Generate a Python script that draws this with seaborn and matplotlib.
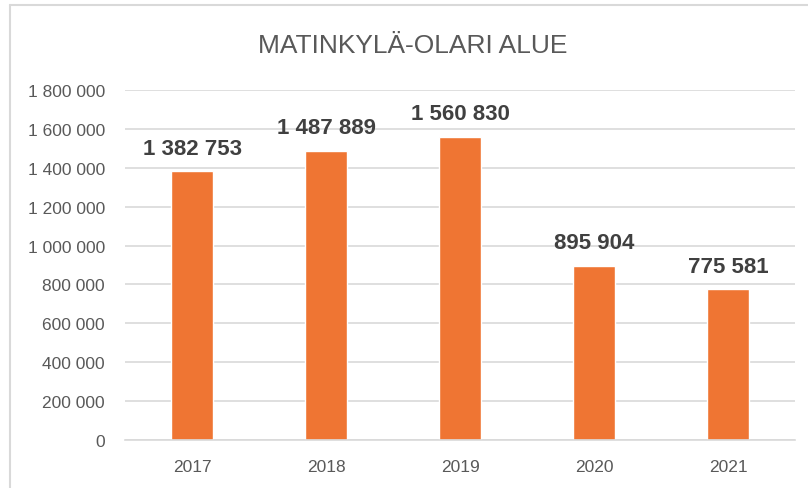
import matplotlib
matplotlib.use("Agg")
import matplotlib.pyplot as plt
import seaborn as sns
import pandas as pd
from matplotlib.ticker import FuncFormatter, MultipleLocator
from matplotlib.lines import Line2D

years = ["2017", "2018", "2019", "2020", "2021"]
values = [1382753, 1487889, 1560830, 895904, 775581]
title = "MATINKYLÄ-OLARI ALUE"

sns.set_theme(style="white")
plt.rcParams['font.family'] = ['Liberation Sans', 'DejaVu Sans']

df = pd.DataFrame({"year": years, "value": values})

def fmt_space(v, pos=None):
    return f"{int(round(v)):,}".replace(",", " ")

fig = plt.figure(figsize=(8.08, 4.89), dpi=100)
ax = fig.add_axes([0.1547, 0.0982, 0.8293, 0.7157])

sns.barplot(data=df, x="year", y="value", color="#EF7533", width=0.31,
            saturation=1, ax=ax)

ax.set_ylim(0, 1800000)
ax.set_xlim(-0.5, 4.5)
ax.yaxis.set_major_locator(MultipleLocator(200000))
ax.yaxis.set_major_formatter(FuncFormatter(fmt_space))
ax.grid(axis="y", color="#D9D9D9", linewidth=1.2)
ax.set_axisbelow(True)
for s in ["top", "right", "left"]:
    ax.spines[s].set_visible(False)
ax.spines["bottom"].set_color("#D9D9D9")
ax.spines["bottom"].set_linewidth(1.2)
ax.tick_params(axis="both", length=0, colors="#595959", labelsize=12.5)
ax.tick_params(axis="y", pad=14.5)
ax.tick_params(axis="x", pad=14)
ax.set_xlabel("")
ax.set_ylabel("")

ax.bar_label(ax.containers[0], labels=[fmt_space(v) for v in values],
             padding=9, fontsize=16, fontweight="bold", color="#404040")

fig.text(0.511, 0.905, title, ha="center", va="center", fontsize=19,
         color="#595959")

# chart frame
fig.add_artist(Line2D([10 / 808, 10 / 808], [0, 1 - 6 / 489], color="#D9D9D9",
                      linewidth=1.5, transform=fig.transFigure))
fig.add_artist(Line2D([10 / 808, 1], [1 - 6 / 489, 1 - 6 / 489], color="#D9D9D9",
                      linewidth=1.5, transform=fig.transFigure))

fig.savefig("out.png", dpi=100)
